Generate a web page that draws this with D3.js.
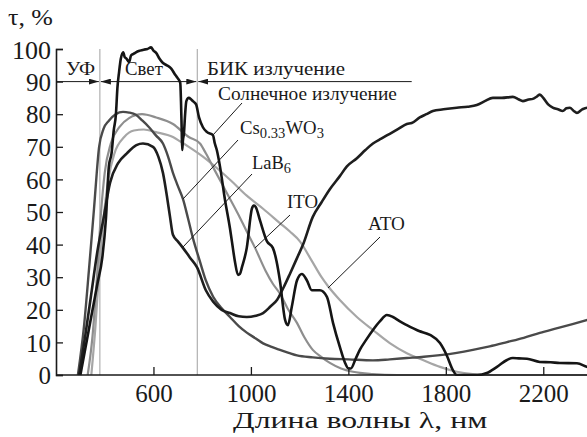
<!DOCTYPE html>
<html>
<head>
<meta charset="utf-8">
<script src="https://cdn.jsdelivr.net/npm/d3@7"></script>
<style>
  body { margin: 0; background: #fff; }
  svg { display: block; }
  svg text { font-family: "Liberation Serif", "Times New Roman", "DejaVu Serif", serif; fill: #1a1a1a; }
</style>
</head>
<body>
<svg id="chart" width="587" height="437"></svg>
<script>
// wavelength (nm), transmittance (%)
var solar = [[300,0],[320,8],[345,18],[370,28],[390,36],[405,48],[417,64],[428,68],[437,75],[446,80],[452,88],[459,93],[466,97],[476,99],[482,97.5],[490,97],[500,96],[508,98],[518,98.5],[528,99],[545,99.5],[560,99.8],[575,100],[590,100.5],[600,99.5],[611,98.8],[625,97],[639,95.7],[655,95],[673,94],[690,92],[700,91],[710,89.6],[713,84],[716,75],[718,69],[721,72],[725,74],[730,80],[735,84],[745,85],[755,84.5],[762,84],[775,83],[787,79],[803,76],[820,74.5],[844,73.6],[852,71],[860,69],[873,64],[893,54],[914,45],[922,41],[934,35],[947,30.7],[955,31],[963,33],[983,39],[1004,51],[1012,52],[1020,51.5],[1037,47.5],[1066,41],[1090,39],[1105,35],[1119,29],[1140,17],[1152,15.3],[1168,21],[1189,29],[1209,31],[1230,29],[1250,26],[1283,26],[1312,24],[1337,16],[1365,8.6],[1385,4],[1400,2],[1410,2],[1430,5],[1447,7.7],[1475,11],[1501,13.8],[1530,16.5],[1558,18.4],[1583,17.8],[1610,16.5],[1640,15.3],[1690,13.5],[1735,12.3],[1776,9.8],[1804,6],[1829,1.5],[1845,0],[1930,0],[1968,0.6],[2010,2.5],[2051,4.6],[2075,5.2],[2100,5.1],[2133,5],[2186,4],[2230,3.9],[2268,3.7],[2338,3.6],[2379,2.5],[2400,2]];
var lab6 = [[295,0],[320,12],[345,25],[370,38],[395,48],[422,59],[455,65],[491,68],[530,70.5],[557,71],[598,70],[620,67],[639,62],[655,55],[668,48.5],[680,43],[700,41],[721,39],[750,36],[779,33],[815,26],[845,22.5],[880,20],[914,19],[950,18],[983,17.8],[1020,18.2],[1050,19],[1080,21],[1107,23],[1135,27],[1160,31],[1190,36],[1214,40],[1254,48.5],[1290,53],[1324,57],[1365,61],[1394,64],[1435,66.5],[1470,69],[1501,71],[1535,72.5],[1570,74],[1605,75.5],[1640,77],[1660,77.3],[1693,79],[1720,80],[1747,81],[1790,81.5],[1845,82],[1890,82.3],[1927,82.8],[1960,84],[1993,85],[2030,85],[2075,85.3],[2100,84.5],[2116,84],[2140,84.5],[2157,84.7],[2175,85.5],[2186,86],[2200,85],[2220,83],[2239,82],[2260,81.5],[2280,81],[2295,81.8],[2309,82],[2325,81],[2338,80.4],[2360,81.5],[2380,82],[2400,82]];
var cswo3 = [[290,0],[315,15],[335,32],[356,51],[377,70],[395,75.5],[417,78],[445,80],[475,80.7],[500,80.5],[528,79.8],[555,78],[582,76],[610,73.5],[639,71],[660,67],[680,62],[700,58],[721,54],[742,48],[762,42],[790,35],[815,29],[845,24],[880,20.5],[914,17.8],[950,15],[983,13],[1020,11.2],[1050,9.7],[1085,8.6],[1119,7.7],[1155,6.8],[1189,6],[1254,5.4],[1324,5],[1400,4.8],[1501,4.5],[1570,4.8],[1640,5.2],[1710,5.6],[1776,6.1],[1845,6.8],[1911,7.7],[1980,8.8],[2051,10.1],[2120,11.4],[2186,12.9],[2250,14.2],[2320,15.6],[2400,17.3]];
var ito = [[330,0],[350,12],[368,30],[385,50],[400,62],[425,71],[460,76],[500,78.8],[553,80],[611,79],[680,77],[745,73],[791,71],[815,68],[850,63],[900,56],[950,49],[983,44],[1017,39],[1060,32],[1090,28],[1119,25],[1150,20.5],[1189,16],[1220,11.5],[1254,7.7],[1290,5.5],[1324,3.7],[1370,2],[1419,1],[1500,0.3],[1600,0],[2400,0]];
var ato = [[345,0],[362,15],[378,33],[395,48],[415,60],[440,68],[480,73],[520,75],[560,75.3],[610,74.5],[680,73],[709,71.7],[745,70],[803,67],[860,63.5],[920,59.5],[983,55],[1050,51],[1119,46.6],[1160,44],[1201,41],[1250,35],[1290,30],[1316,27.3],[1365,23],[1435,17.8],[1501,13.8],[1570,9.8],[1640,6.7],[1706,4.6],[1776,2.5],[1845,1],[1911,0.3],[2000,0],[2400,0]];

var xTicks = [600, 1000, 1400, 1800, 2200];
var yTicks = [0, 10, 20, 30, 40, 50, 60, 70, 80, 90, 100];
var bounds = [380, 780];   // UV | visible | NIR

var FONT = '"Liberation Serif", "Times New Roman", "DejaVu Serif", serif';
var svg = d3.select('#chart');
var x = d3.scaleLinear().domain([200, 2400]).range([56, 592]);
var y = d3.scaleLinear().domain([0, 100]).range([375, 49]);

var defs = svg.append('defs');
defs.append('clipPath').attr('id', 'clip')
  .append('rect').attr('x', 56).attr('y', 30).attr('width', 540).attr('height', 346);
['arrEnd', 'arrStart'].forEach(function(id, i) {
  defs.append('marker').attr('id', id)
    .attr('viewBox', '0 0 10 6').attr('refX', i ? 0 : 10).attr('refY', 3)
    .attr('markerWidth', 10).attr('markerHeight', 6).attr('markerUnits', 'userSpaceOnUse')
    .attr('orient', 'auto')
    .append('path').attr('d', i ? 'M10,0L0,3L10,6Z' : 'M0,0L10,3L0,6Z').attr('fill', '#1a1a1a');
});

// stretch a text horizontally to a wanted width (the scan uses wide glyphs)
function fit(sel, px, py, w, anchor) {
  var cur = sel.node().getBBox().width;
  var s = cur > 0 ? w / cur : 1;
  var dx = anchor === 'middle' ? -w / 2 : 0;
  sel.attr('x', 0).attr('y', 0)
    .attr('transform', 'translate(' + (px + dx) + ',' + py + ') scale(' + s + ',1)');
  return sel;
}
function label(txt, size) {
  return svg.append('text').attr('font-family', FONT).attr('font-size', size || 18).text(txt);
}

// region borders
svg.selectAll('.bound').data(bounds).enter().append('line')
  .attr('x1', d => x(d)).attr('x2', d => x(d))
  .attr('y1', y(100)).attr('y2', y(0))
  .attr('stroke', '#b0b0b0').attr('stroke-width', 1.2);

// region arrows at 90 %
var ya = y(90);
svg.append('line').attr('x1', x(200)).attr('x2', x(380) - 1).attr('y1', ya).attr('y2', ya)
  .attr('stroke', '#1a1a1a').attr('stroke-width', 1).attr('marker-end', 'url(#arrEnd)');
svg.append('line').attr('x1', x(380) + 1).attr('x2', x(780) - 1).attr('y1', ya).attr('y2', ya)
  .attr('stroke', '#1a1a1a').attr('stroke-width', 1)
  .attr('marker-start', 'url(#arrStart)').attr('marker-end', 'url(#arrEnd)');
svg.append('line').attr('x1', x(780) + 1).attr('x2', x(1660)).attr('y1', ya).attr('y2', ya)
  .attr('stroke', '#1a1a1a').attr('stroke-width', 1).attr('marker-start', 'url(#arrStart)');

fit(label('УФ'), 66, 75, 29);
fit(label('Свет'), 125, 75, 38);
fit(label('БИК излучение'), 207, 75, 138);

// curves
var line = d3.line().x(d => x(d[0])).y(d => y(d[1])).curve(d3.curveMonotoneX);
var series = [
  { data: ato, color: '#a6a6a6', w: 2.2 },
  { data: ito, color: '#8e8e8e', w: 2.2 },
  { data: cswo3, color: '#4a4a4a', w: 2.4 },
  { data: lab6, color: '#1e1e1e', w: 2.6 },
  { data: solar, color: '#151515', w: 2.6 }
];
var plot = svg.append('g').attr('clip-path', 'url(#clip)');
plot.selectAll('path').data(series).enter().append('path')
  .attr('d', d => line(d.data))
  .attr('fill', 'none').attr('stroke', d => d.color).attr('stroke-width', d => d.w)
  .attr('stroke-linejoin', 'round');

// axes
var xAxis = d3.axisBottom(x).tickValues(xTicks).tickSize(-8).tickPadding(13).tickFormat(d3.format('d'));
var gx = svg.append('g').attr('transform', 'translate(0,' + y(0) + ')').call(xAxis);
var yAxis = d3.axisLeft(y).tickValues(yTicks).tickSize(-7).tickPadding(6);
var gy = svg.append('g').attr('transform', 'translate(' + x(200) + ',0)').call(yAxis);
[gx, gy].forEach(function(g) {
  g.attr('font-family', FONT).attr('font-size', 25);
  g.select('.domain').attr('stroke', '#1a1a1a').attr('stroke-width', 1.6);
  g.selectAll('.tick line').attr('stroke', '#1a1a1a').attr('stroke-width', 1.3);
  g.selectAll('.tick text').attr('font-family', FONT).attr('fill', '#1a1a1a');
});
gx.select('.domain').attr('d', 'M' + x(200) + ',0H587');
gx.selectAll('.tick text').attr('dy', '0.56em');
gy.selectAll('.tick text').attr('x', -5).attr('dy', '0.35em');
gy.selectAll('.tick').filter(d => d === 100).select('text').attr('font-size', 26);

fit(label('τ, %', 24), 8, 25, 45);
fit(label('Длина волны λ, нм', 23), 233, 428, 255);

// curve labels with leader lines
var leaders = [
  { x1: 242, y1: 103, x2: 213, y2: 135 },
  { x1: 238, y1: 140, x2: 183, y2: 199 },
  { x1: 252, y1: 174, x2: 183, y2: 247 },
  { x1: 290, y1: 215, x2: 255, y2: 248 },
  { x1: 380, y1: 237, x2: 328, y2: 288 }
];
svg.selectAll('.leader').data(leaders).enter().append('line')
  .attr('x1', d => d.x1).attr('y1', d => d.y1).attr('x2', d => d.x2).attr('y2', d => d.y2)
  .attr('stroke', '#1a1a1a').attr('stroke-width', 1);

fit(label('Солнечное излучение'), 218, 100, 179);
var cs = label('');
cs.append('tspan').text('Cs');
cs.append('tspan').attr('dy', 4).attr('font-size', 14).text('0.33');
cs.append('tspan').attr('dy', -4).text('WO');
cs.append('tspan').attr('dy', 4).attr('font-size', 14).text('3');
fit(cs, 240, 134, 84);
var lb = label('');
lb.append('tspan').text('LaB');
lb.append('tspan').attr('dy', 4).attr('font-size', 14).text('6');
fit(lb, 252, 169, 39);
fit(label('ITO'), 287, 208, 31);
fit(label('ATO'), 368, 230, 37);
</script>
</body>
</html>
